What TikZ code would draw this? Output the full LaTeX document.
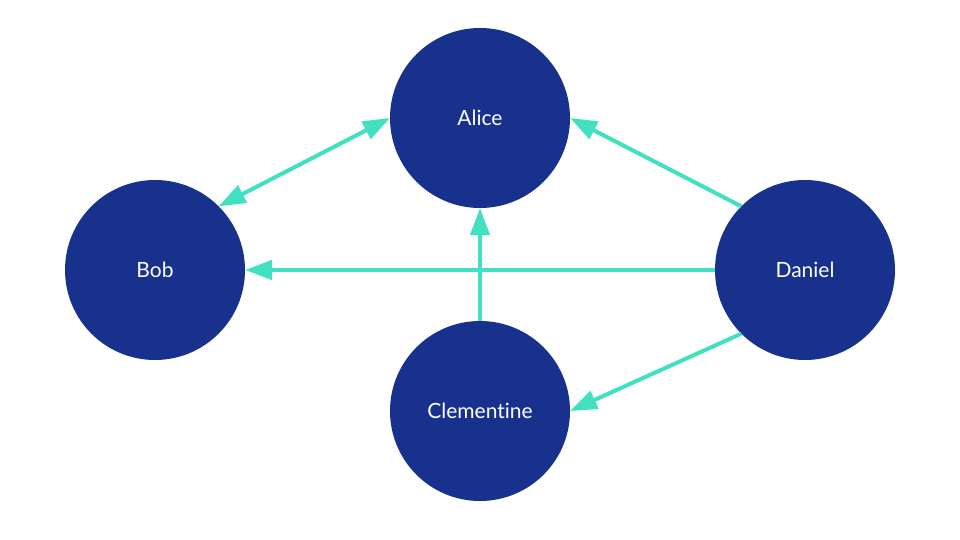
\documentclass[tikz,border=0pt]{standalone}
\usepackage{fontspec}
\setmainfont{Lato}[Ligatures=NoCommon]
\usetikzlibrary{arrows.meta}
\definecolor{navy}{HTML}{17318D}
\definecolor{teal}{HTML}{40E0C0}
\tikzset{
  person/.style={circle, fill=navy, minimum size=180pt, inner sep=0pt, outer sep=0pt, text=white, font=\fontsize{21}{24}\selectfont},
  link/.style={draw=teal, line width=4pt, -{Triangle[length=27pt, width=19pt]}},
  blink/.style={draw=teal, line width=4pt, {Triangle[length=27pt, width=19pt]}-{Triangle[length=27pt, width=19pt]}}
}
\begin{document}
\begin{tikzpicture}[x=1pt, y=-1pt]
\useasboundingbox (0,0) rectangle (960,540);
\node[person] (alice) at (480,118) {Alice};
\node[person] (bob) at (155,270) {Bob};
\node[person] (daniel) at (805,270) {Daniel};
\node[person] (clem) at (480,411) {Clementine};
\draw[blink] (bob.45) -- (alice.west);
\draw[link] (daniel.west) -- (bob.east);
\draw[link] (clem.north) -- (alice.south);
\draw[link] (daniel.135) -- (alice.east);
\draw[link] (daniel.225) -- (clem.east);
\end{tikzpicture}
\end{document}
